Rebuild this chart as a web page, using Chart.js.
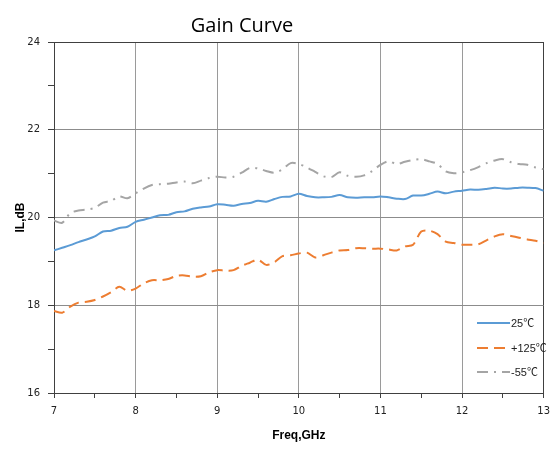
<!DOCTYPE html>
<html>
<head>
<meta charset="utf-8">
<script src="https://cdn.jsdelivr.net/npm/chart.js@4.4.1/dist/chart.umd.min.js"></script>
<style>
  html, body { margin: 0; padding: 0; background: #fff; }
  #wrap { width: 557px; height: 449px; position: relative; }
</style>
</head>
<body>
<div id="wrap"><canvas id="c"></canvas></div>
<script>
// Frequency points, GHz (0.1 GHz step)
const freq = [
  7.0, 7.1, 7.2, 7.3, 7.4, 7.5, 7.6, 7.7, 7.8, 7.9,
  8.0, 8.1, 8.2, 8.3, 8.4, 8.5, 8.6, 8.7, 8.8, 8.9,
  9.0, 9.1, 9.2, 9.3, 9.4, 9.5, 9.6, 9.7, 9.8, 9.9,
  10.0, 10.1, 10.2, 10.3, 10.4, 10.5, 10.6, 10.7, 10.8, 10.9,
  11.0, 11.1, 11.2, 11.3, 11.4, 11.5, 11.6, 11.7, 11.8, 11.9,
  12.0, 12.1, 12.2, 12.3, 12.4, 12.5, 12.6, 12.7, 12.8, 12.9,
  13.0
];

// Gain (dB) at 25°C
const gain25 = [
  19.25, 19.31, 19.37, 19.44, 19.50, 19.57, 19.68, 19.70, 19.76, 19.79,
  19.90, 19.95, 20.00, 20.05, 20.06, 20.12, 20.14, 20.20, 20.23, 20.25,
  20.30, 20.29, 20.27, 20.31, 20.33, 20.38, 20.36, 20.42, 20.47, 20.48,
  20.54, 20.49, 20.46, 20.46, 20.47, 20.51, 20.46, 20.45, 20.46, 20.46,
  20.48, 20.46, 20.43, 20.42, 20.50, 20.50, 20.54, 20.59, 20.55, 20.59,
  20.61, 20.64, 20.63, 20.65, 20.68, 20.66, 20.66, 20.68, 20.68, 20.67,
  20.61
];

// Gain (dB) at +125°C
const gain125 = [
  17.87, 17.83, 17.97, 18.06, 18.08, 18.12, 18.20, 18.30, 18.42, 18.33,
  18.38, 18.50, 18.57, 18.57, 18.60, 18.67, 18.68, 18.65, 18.66, 18.75,
  18.80, 18.79, 18.80, 18.90, 18.97, 19.04, 18.92, 18.98, 19.12, 19.14,
  19.18, 19.20, 19.09, 19.14, 19.20, 19.25, 19.26, 19.30, 19.30, 19.29,
  19.29, 19.27, 19.25, 19.34, 19.38, 19.68, 19.70, 19.62, 19.45, 19.42,
  19.38, 19.38, 19.39, 19.48, 19.57, 19.62, 19.58, 19.54, 19.50, 19.47,
  19.42
];

// Gain (dB) at -55°C
const gainM55 = [
  19.93, 19.88, 20.10, 20.16, 20.18, 20.22, 20.34, 20.38, 20.48, 20.44,
  20.55, 20.66, 20.74, 20.76, 20.77, 20.80, 20.82, 20.78, 20.84, 20.90,
  20.93, 20.91, 20.93, 21.02, 21.13, 21.12, 21.06, 21.02, 21.10, 21.24,
  21.22, 21.14, 21.04, 20.94, 20.92, 21.03, 20.95, 20.93, 20.96, 21.06,
  21.20, 21.28, 21.22, 21.27, 21.31, 21.33, 21.28, 21.22, 21.05, 21.01,
  21.03, 21.08, 21.15, 21.24, 21.30, 21.33, 21.26, 21.22, 21.20, 21.14,
  21.10
];

const seriesLabels = ['25\u2103', '+125\u2103', '-55\u2103'];
const xTicks = [7, 8, 9, 10, 11, 12, 13];
const yTicks = [16, 18, 20, 22, 24];

const pts = (vals) => vals.map((v, i) => ({ x: freq[i], y: v }));

// title + legend drawn by hand to sit where the original has them
const decor = {
  id: 'decor',
  afterDraw(chart) {
    const { ctx } = chart;
    ctx.save();
    ctx.fillStyle = '#000';
    ctx.font = '20px "Open Sans", sans-serif';
    ctx.textAlign = 'center';
    ctx.textBaseline = 'middle';
    ctx.fillText('Gain Curve', 242, 26);

    const rows = [323, 348, 372];
    ctx.font = '11px "Liberation Sans", "Noto Sans CJK SC", sans-serif';
    ctx.textAlign = 'left';
    chart.data.datasets.forEach((ds, i) => {
      const y = rows[i];
      ctx.beginPath();
      ctx.strokeStyle = ds.borderColor;
      ctx.lineWidth = 2;
      ctx.setLineDash(ds.borderDash || []);
      ctx.moveTo(477, y);
      ctx.lineTo(510, y);
      ctx.stroke();
      ctx.setLineDash([]);
      ctx.fillStyle = '#222';
      ctx.fillText(ds.label, 511, y + 1);
    });
    ctx.restore();
  },
};

new Chart(document.getElementById('c'), {
  type: 'line',
  data: {
    datasets: [
      { label: seriesLabels[0], data: pts(gain25), borderColor: '#5B9BD5', borderWidth: 2, tension: 0.3, pointRadius: 0 },
      { label: seriesLabels[1], data: pts(gain125), borderColor: '#ED7D31', borderWidth: 2, borderDash: [11, 6], tension: 0.3, pointRadius: 0 },
      { label: seriesLabels[2], data: pts(gainM55), borderColor: '#A5A5A5', borderWidth: 2, borderDash: [11, 6, 2, 6], tension: 0.3, pointRadius: 0 },
    ],
  },
  options: {
    responsive: true, maintainAspectRatio: false, animation: false,
    layout: { padding: { top: 42, right: 12, left: 0, bottom: 0 } },
    plugins: { legend: { display: false }, title: { display: false }, tooltip: { enabled: false } },
    scales: {
      x: {
        type: 'linear', min: 7, max: 13,
        afterFit: s => { s.height = 56; },
        afterBuildTicks: s => { s.ticks = []; for (let v = 14; v <= 26; v++) s.ticks.push({ value: v / 2 }); },
        border: { color: '#404040', width: 1 },
        grid: {
          color: c => (c.tick.value === 13 ? '#404040' : Number.isInteger(c.tick.value) ? '#9a9a9a' : 'rgba(0,0,0,0)'),
          tickColor: '#404040', tickLength: 5,
        },
        ticks: {
          autoSkip: false, maxRotation: 0, padding: 7, color: '#222',
          font: { family: '"DejaVu Sans", sans-serif', size: 10 },
          callback: v => (xTicks.includes(v) ? String(v) : ''),
        },
        title: { display: true, text: 'Freq,GHz', color: '#000', padding: { bottom: 6 },
                 font: { family: '"Liberation Sans", Arial, sans-serif', size: 12, weight: 'bold' } },
      },
      y: {
        min: 16, max: 24,
        afterFit: s => { s.width = 54; },
        border: { color: '#404040', width: 1 },
        grid: {
          color: c => (c.tick.value === 24 ? '#404040' : c.tick.value % 2 === 0 ? '#8c8c8c' : 'rgba(0,0,0,0)'),
          tickColor: '#404040', tickLength: 6,
        },
        ticks: {
          stepSize: 1, autoSkip: false, padding: 8, color: '#222',
          font: { family: '"DejaVu Sans", sans-serif', size: 10 },
          callback: v => (yTicks.includes(v) ? String(v) : ''),
        },
        title: { display: true, text: 'IL,dB', color: '#000', padding: { top: 13 },
                 font: { family: '"Liberation Sans", Arial, sans-serif', size: 12, weight: 'bold' } },
      },
    },
  },
  plugins: [decor],
});
</script>
</body>
</html>
